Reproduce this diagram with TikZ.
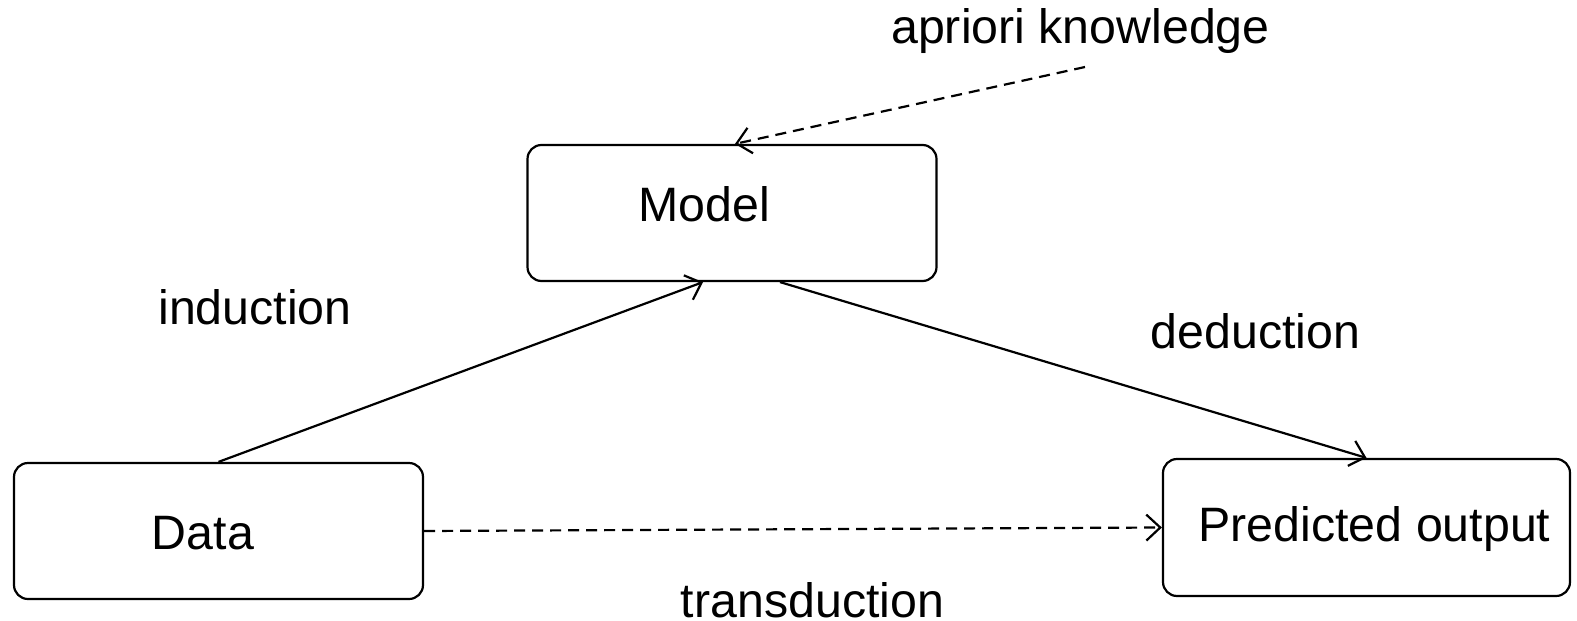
\documentclass[tikz,border=0pt]{standalone}
\usepackage{fontspec}
\setmainfont{Liberation Sans}
\usetikzlibrary{arrows.meta}
\tikzset{
  box/.style={draw, line width=2.2pt, rounded corners=14pt, inner sep=0pt, minimum width=409pt, minimum height=136pt},
  txt/.style={inner sep=0pt, anchor=base, font=\fontsize{48.3}{58}\selectfont},
  conn/.style={line width=2.2pt, -{Straight Barb[length=14pt,width=26pt,line width=2.2pt]}},
  dconn/.style={conn, dash pattern=on 11pt off 7pt}
}
\begin{document}
\begin{tikzpicture}[x=1pt,y=-1pt]
\useasboundingbox (0,0) rectangle (1577,621);
\node[box] (model) at (732,213) {};
\node[box] (data) at (218.5,531) {};
\node[box, minimum width=407pt, minimum height=137pt] (pred) at (1366.5,527.5) {};
\node[txt] (tmodel) at (704,221) {Model};
\node[txt] (tdata) at (203,549) {Data};
\node[txt] (tpred) at (1374.5,541) {Predicted output};
\node[txt] (apriori) at (1080.5,43) {apriori knowledge};
\node[txt] (induction) at (255,324) {induction};
\node[txt] (deduction) at (1255.5,348) {deduction};
\node[txt] (transduction) at (812.5,617) {transduction};
\coordinate (astart) at (1085,67);
\draw[conn] (data.north) -- ([xshift=-29pt]model.south);
\draw[conn] ([xshift=48pt]model.south) -- (pred.north);
\draw[dconn] (astart) -- ([xshift=3pt]model.north);
\draw[dconn] (data.east) -- (pred.west);
\end{tikzpicture}
\end{document}
